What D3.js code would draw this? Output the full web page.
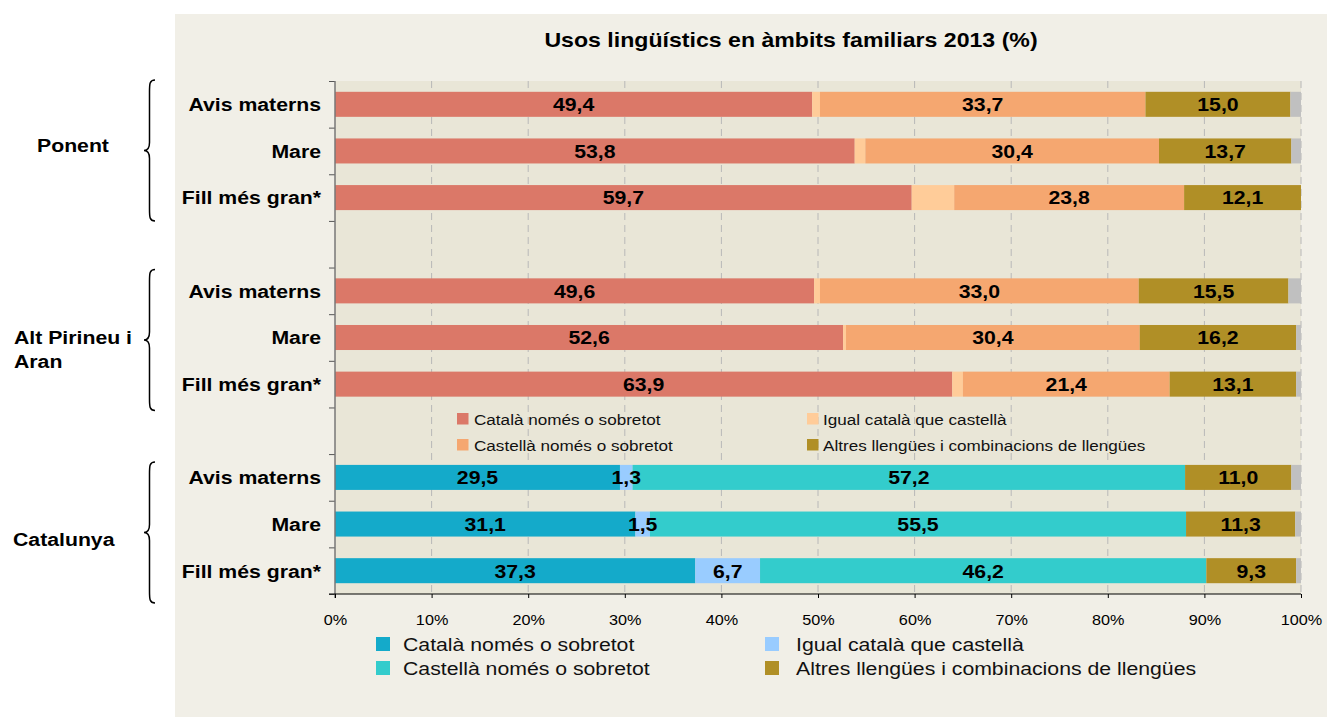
<!DOCTYPE html>
<html><head><meta charset="utf-8">
<script src="https://cdn.jsdelivr.net/npm/d3@7"></script>
<style>body{margin:0;background:#fff}svg{display:block}text{font-family:"Liberation Sans",Arial,sans-serif}</style>
</head><body>
<svg id="c" width="1327" height="717"></svg>
<script>
// ---------- DATA ----------
const titleText = "Usos lingüístics en àmbits familiars 2013 (%)";
const groups = ["Ponent", "Alt Pirineu i Aran", "Catalunya"];
const groupLabelLines = [["Ponent"], ["Alt Pirineu i", "Aran"], ["Catalunya"]];
const rowLabels = ["Avis materns", "Mare", "Fill més gran*"];
const seriesNames = ["Català només o sobretot", "Igual català que castellà", "Castellà només o sobretot", "Altres llengües i combinacions de llengües"];
// rows: Ponent(3), Alt Pirineu i Aran(3), Catalunya(3)
const catalaValues   = [49.4, 53.8, 59.7, 49.6, 52.6, 63.9, 29.5, 31.1, 37.3];
const igualValues    = [0.8, 1.1, 4.4, 0.6, 0.3, 1.1, 1.3, 1.5, 6.7];
const castellaValues = [33.7, 30.4, 23.8, 33.0, 30.4, 21.4, 57.2, 55.5, 46.2];
const altresValues   = [15.0, 13.7, 12.1, 15.5, 16.2, 13.1, 11.0, 11.3, 9.3];
const nsncValues     = [1.1, 1.0, 0.0, 1.3, 0.5, 0.5, 1.0, 0.6, 0.5];
const igualLabelShown = [false, false, false, false, false, false, true, true, true];
const xTickValues = [0, 10, 20, 30, 40, 50, 60, 70, 80, 90, 100];

const regionalColors = ["#DB7868", "#FFCC99", "#F5A770", "#B08F26", "#C0C0C0"];
const catalunyaColors = ["#14AACA", "#99CCFF", "#33CCCC", "#B08F26", "#C0C0C0"];

// ---------- LAYOUT ----------
const SX = 1.12; // horizontal text stretch of the original
const K = 1.25 / SX;
const svg = d3.select("#c");
const plot = {l: 335, r: 1301, t: 81, b: 594};

svg.append("rect").attr("x", 175).attr("y", 14).attr("width", 1327 - 175).attr("height", 717 - 14).attr("fill", "#F1EFE7");
svg.append("rect").attr("x", plot.l).attr("y", plot.t).attr("width", plot.r - plot.l).attr("height", plot.b - plot.t).attr("fill", "#E9E6D7");

const rowIds = [];
groups.forEach((g, gi) => {
  rowLabels.forEach((r, ri) => rowIds.push(gi + "_" + ri));
  if (gi < groups.length - 1) rowIds.push("gap" + gi);
});
const x = d3.scaleLinear().domain([0, 100]).range([plot.l, plot.r]);
const pin = 0.4635;
const y = d3.scaleBand().domain(rowIds).range([plot.t, plot.b]).paddingInner(pin).paddingOuter(pin / 2);
const yIdx = d3.scaleLinear().domain([0, rowIds.length]).range([plot.t, plot.b]);

function stretch(sel, tx, ty) {
  sel.attr("transform", `translate(${tx},${ty}) scale(${SX},1)`);
  return sel;
}

// gridlines
svg.append("g").selectAll("line").data(xTickValues.slice(1)).join("line")
  .attr("x1", d => x(d)).attr("x2", d => x(d)).attr("y1", plot.t).attr("y2", plot.b)
  .attr("stroke", "#B8B8B8").attr("stroke-width", 1).attr("stroke-dasharray", "7,5");

// bars
const rows = [];
for (let i = 0; i < catalaValues.length; i++) {
  const gi = Math.floor(i / 3), ri = i % 3;
  const vals = [catalaValues[i], igualValues[i], castellaValues[i], altresValues[i], nsncValues[i]];
  const cols = gi === 2 ? catalunyaColors : regionalColors;
  let acc = 0;
  vals.forEach((v, si) => {
    rows.push({id: gi + "_" + ri, x0: acc, x1: acc + v, v, color: cols[si], label: si === 0 || si === 2 || si === 3 || (si === 1 && igualLabelShown[i])});
    acc += v;
  });
}
svg.append("g").selectAll("rect").data(rows).join("rect")
  .attr("x", d => x(d.x0)).attr("y", d => y(d.id))
  .attr("width", d => Math.max(0, x(d.x1) - x(d.x0))).attr("height", y.bandwidth())
  .attr("fill", d => d.color);

const fmt = v => v.toFixed(1).replace(".", ",");
svg.append("g").selectAll("text").data(rows.filter(d => d.label)).join("text")
  .each(function(d) { stretch(d3.select(this), (x(d.x0) + x(d.x1)) / 2, y(d.id) + y.bandwidth() / 2); })
  .attr("text-anchor", "middle").attr("dy", "0.36em")
  .attr("font-size", 17 * K).attr("font-weight", "bold").attr("fill", "#000")
  .text(d => fmt(d.v));

// y axis
const yAx = svg.append("g").attr("transform", `translate(${plot.l},0)`)
  .call(d3.axisLeft(yIdx).tickValues(d3.range(rowIds.length + 1)).tickFormat("").tickSize(6).tickSizeOuter(0));
yAx.select(".domain").remove();
yAx.selectAll("line").attr("stroke", "#555");
svg.append("line").attr("x1", plot.l).attr("x2", plot.l).attr("y1", plot.t).attr("y2", plot.b + 4).attr("stroke", "#777").attr("stroke-width", 1.5);

// x axis
const xAx = svg.append("g").attr("transform", `translate(0,${plot.b})`)
  .call(d3.axisBottom(x).tickValues(xTickValues).tickSize(4).tickSizeOuter(0).tickPadding(17).tickFormat(d => d + "%"));
xAx.select(".domain").remove();
xAx.selectAll("line").attr("stroke", "#000");
xAx.selectAll("text").attr("font-size", 13 * K).attr("fill", "#000").attr("font-family", "Liberation Sans, Arial, sans-serif")
  .attr("transform", `scale(${SX},1)`);
svg.append("line").attr("x1", plot.l - 6).attr("x2", plot.r).attr("y1", plot.b).attr("y2", plot.b).attr("stroke", "#000").attr("stroke-width", 1.2);

// row labels
svg.append("g").selectAll("text").data(rowIds.filter(id => !id.startsWith("gap"))).join("text")
  .each(function(id) { stretch(d3.select(this), 321, y(id) + y.bandwidth() / 2); })
  .attr("text-anchor", "end").attr("dy", "0.36em")
  .attr("font-size", 17 * K).attr("font-weight", "bold").attr("fill", "#000")
  .text(id => rowLabels[+id.split("_")[1]]);

// title
stretch(svg.append("text"), 791, 40).attr("text-anchor", "middle").attr("dy", "0.36em")
  .attr("font-size", 18.5 * K).attr("font-weight", "bold").attr("fill", "#000").text(titleText);

// group labels + braces
const groupLabelPos = [[37, [145]], [14, [337, 361]], [13, [539]]];
const braceShift = [-1, 2, 8];
groups.forEach((g, gi) => {
  const [lx, lys] = groupLabelPos[gi];
  groupLabelLines[gi].forEach((line, li) => {
    stretch(svg.append("text"), lx, lys[li]).attr("dy", "0.36em")
      .attr("font-size", 17 * K).attr("font-weight", "bold").attr("fill", "#000").text(line);
  });
  const top = y(gi + "_0") - y.step() * pin / 2 + braceShift[gi];
  const bot = y(gi + "_2") + y.bandwidth() + y.step() * pin / 2 + braceShift[gi] + 1;
  const mid = (top + bot) / 2;
  const xe = 155, xv = 149.5, xt = 144;
  const p = `M${xe},${top} C${xv},${top} ${xv},${top + 4} ${xv},${top + 12} L${xv},${mid - 8} C${xv},${mid - 2} ${xv - 2},${mid} ${xt},${mid} C${xv - 2},${mid} ${xv},${mid + 2} ${xv},${mid + 8} L${xv},${bot - 12} C${xv},${bot - 4} ${xv},${bot} ${xe},${bot}`;
  svg.append("path").attr("d", p).attr("fill", "none").attr("stroke", "#000").attr("stroke-width", 1.5);
});

// inner legend (regional colors)
const innerLeg = [
  {s: 0, sx: 457, tx: 474, y: 419}, {s: 1, sx: 807, tx: 823, y: 419},
  {s: 2, sx: 457, tx: 474, y: 445}, {s: 3, sx: 807, tx: 823, y: 445}
];
innerLeg.forEach(d => {
  svg.append("rect").attr("x", d.sx).attr("y", d.y - 6).attr("width", 11.5).attr("height", 11.5).attr("fill", regionalColors[d.s]);
  stretch(svg.append("text"), d.tx, d.y).attr("dy", "0.36em").attr("font-size", 13.7 * K).attr("fill", "#111").text(seriesNames[d.s]);
});

// bottom legend (Catalunya colors)
const bottomLeg = [
  {s: 0, sx: 376, tx: 403, y: 644}, {s: 1, sx: 765, tx: 796, y: 644},
  {s: 2, sx: 376, tx: 403, y: 668}, {s: 3, sx: 765, tx: 796, y: 668}
];
bottomLeg.forEach(d => {
  svg.append("rect").attr("x", d.sx).attr("y", d.y - 7).attr("width", 14).attr("height", 14).attr("fill", catalunyaColors[d.s]);
  stretch(svg.append("text"), d.tx, d.y).attr("dy", "0.36em").attr("font-size", 17 * K).attr("fill", "#111").text(seriesNames[d.s]);
});
</script>
</body></html>
